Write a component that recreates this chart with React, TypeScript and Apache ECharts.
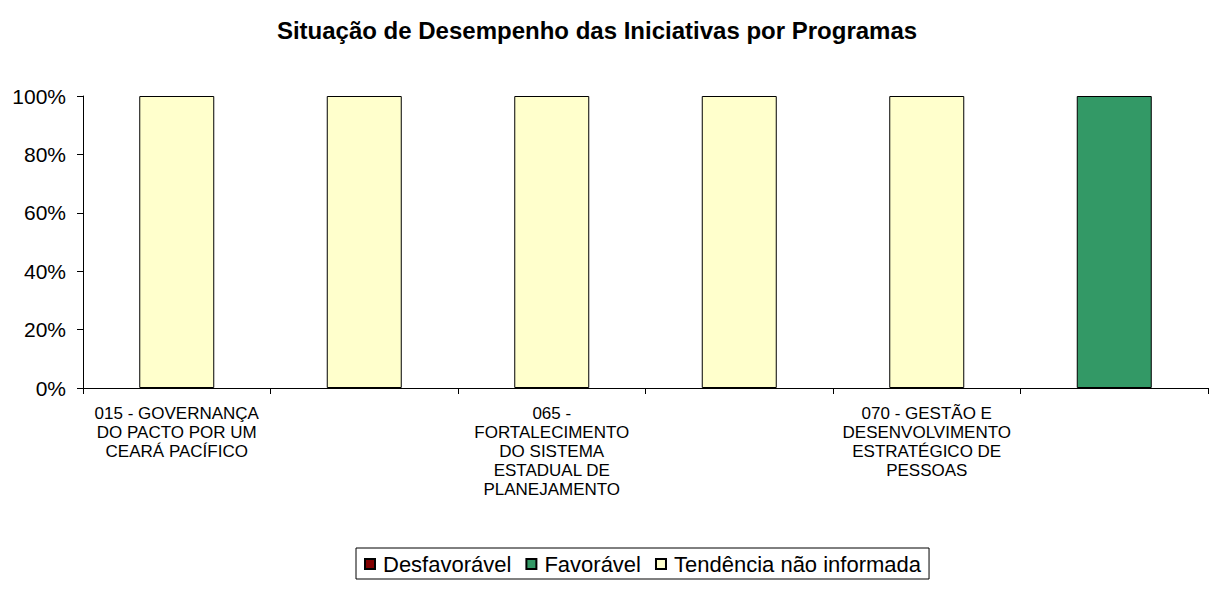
import React, { useEffect, useRef } from "react";
import * as echarts from "echarts";

const categories = [
  "015 - GOVERNANÇA\nDO PACTO POR UM\nCEARÁ PACÍFICO",
  "",
  "065 -\nFORTALECIMENTO\nDO SISTEMA\nESTADUAL DE\nPLANEJAMENTO",
  "",
  "070 - GESTÃO E\nDESENVOLVIMENTO\nESTRATÉGICO DE\nPESSOAS",
  "",
];
const desfavoravel = [0, 0, 0, 0, 0, 0];
const favoravel = [0, 0, 0, 0, 0, 100];
const tendenciaNaoInformada = [100, 100, 100, 100, 100, 0];
const yTicks = [0, 20, 40, 60, 80, 100];

const FONT = "'Liberation Sans', Arial, sans-serif";

export default function App() {
  const ref = useRef<HTMLDivElement>(null);
  useEffect(() => {
    if (!ref.current) return;
    const chart = echarts.init(ref.current, undefined, { renderer: "svg" });
    const barStyle = (color: string) => ({
      color,
      borderColor: "#000",
      borderWidth: 1,
    });
    const nz = (arr: number[]) => arr.map((v) => (v === 0 ? null : v));
    chart.setOption({
      animation: false,
      backgroundColor: "#fff",
      textStyle: { fontFamily: FONT },
      title: {
        text: "Situação de Desempenho das Iniciativas por Programas",
        left: 592,
        textAlign: "center",
        top: 13,
        textStyle: { fontFamily: FONT, fontSize: 24, fontWeight: "bold", color: "#000" },
      },
      legend: {
        left: 356,
        top: 548,
        orient: "horizontal",
        borderColor: "#000",
        borderWidth: 1,
        padding: [5, 8, 4, 8],
        itemWidth: 10,
        itemHeight: 10,
        itemGap: 14,
        icon: "rect",
        textStyle: { fontFamily: FONT, fontSize: 22, color: "#000", padding: [0, 0, 0, 3] },
        data: ["Desfavorável", "Favorável", "Tendência não informada"],
      },
      grid: { left: 83, right: 2, top: 96, bottom: 201, containLabel: false },
      xAxis: {
        type: "category",
        data: categories,
        boundaryGap: true,
        axisLine: { lineStyle: { color: "#000", width: 1 } },
        axisTick: { show: true, length: 6, lineStyle: { color: "#000" }, interval: 0 },
        axisLabel: {
          interval: 0,
          margin: 16,
          fontFamily: FONT,
          fontSize: 17,
          lineHeight: 19,
          color: "#000",
          align: "center",
        },
      },
      yAxis: {
        type: "value",
        min: yTicks[0],
        max: yTicks[yTicks.length - 1],
        interval: 20,
        splitLine: { show: false },
        axisLine: { show: true, lineStyle: { color: "#000", width: 1 } },
        axisTick: { show: true, length: 6, lineStyle: { color: "#000" } },
        axisLabel: {
          formatter: "{value}%",
          fontFamily: FONT,
          fontSize: 21,
          color: "#000",
          margin: 17,
        },
      },
      series: [
        {
          name: "Desfavorável",
          type: "bar",
          stack: "total",
          barWidth: "40%",
          data: nz(desfavoravel),
          itemStyle: barStyle("#800000"),
        },
        {
          name: "Favorável",
          type: "bar",
          stack: "total",
          barWidth: "40%",
          data: nz(favoravel),
          itemStyle: barStyle("#339966"),
        },
        {
          name: "Tendência não informada",
          type: "bar",
          stack: "total",
          barWidth: "40%",
          data: nz(tendenciaNaoInformada),
          itemStyle: barStyle("#FFFFCC"),
        },
      ],
    });
    return () => chart.dispose();
  }, []);
  return <div ref={ref} style={{ width: 1210, height: 589, position: "absolute", left: 0, top: 0 }} />;
}
